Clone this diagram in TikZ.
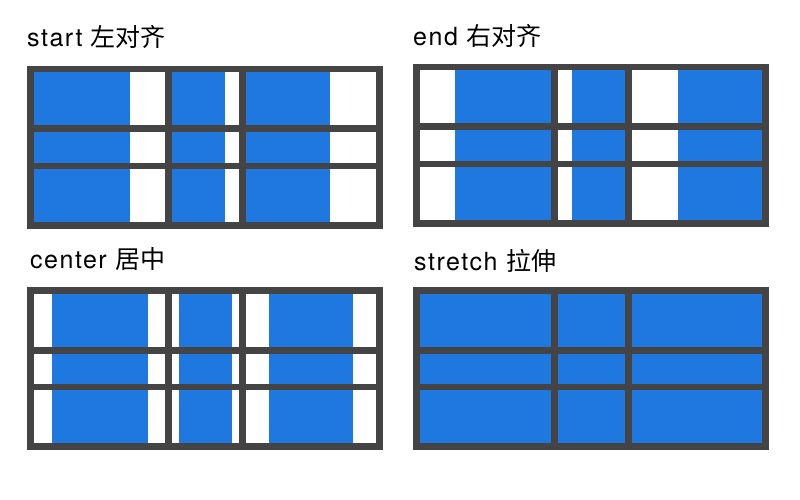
\documentclass[tikz,border=0pt]{standalone}
\usepackage{fontspec}
\setmainfont{TeX Gyre Heros}[LetterSpace=6]
\newfontfamily\cjk{Noto Sans CJK SC}
\definecolor{gridline}{HTML}{444444}
\definecolor{itemblue}{HTML}{1F77E0}

\begin{document}
\begin{tikzpicture}[x=1pt,y=-1pt]
		\tikzset{title/.style={anchor=base west,inner sep=0pt,font=\fontsize{25}{29}\selectfont}}
		\tikzset{frame/.style={fill=gridline}}
		\tikzset{cell/.style={fill=white}}
		\tikzset{item/.style={fill=itemblue}}
		\useasboundingbox (0,0) rectangle (800,500);
		% titles
		\node[title] (start) at (27,47) {start {\cjk 左对齐}};
		\node[title] (end) at (413,46) {end {\cjk 右对齐}};
		\node[title] (center) at (30,268) {center {\cjk 居中}};
		\node[title] (stretch) at (414,270) {stretch {\cjk 拉伸}};
		% panels: x / y / align factor / stretch flag
		\foreach \px/\py/\af/\sf in {27/66/0/0, 413/64/1/0, 27/287/0.5/0, 413/287/0/1}{
			\fill[frame] (\px,\py) rectangle ++(356,163);
			\foreach \cx/\cw/\bw in {7/131/96, 145/67/53, 219/130/84}{
				\foreach \ry/\rh in {6.5/53, 66.5/30, 103/53}{
					\pgfmathsetmacro\w{\bw+\sf*(\cw-\bw)}
					\pgfmathsetmacro\dx{\af*(\cw-\w)}
					\fill[cell] (\px+\cx,\py+\ry) rectangle ++(\cw,\rh);
					\fill[item] (\px+\cx+\dx,\py+\ry) rectangle ++(\w,\rh);
				}
			}
		}
\end{tikzpicture}
\end{document}
